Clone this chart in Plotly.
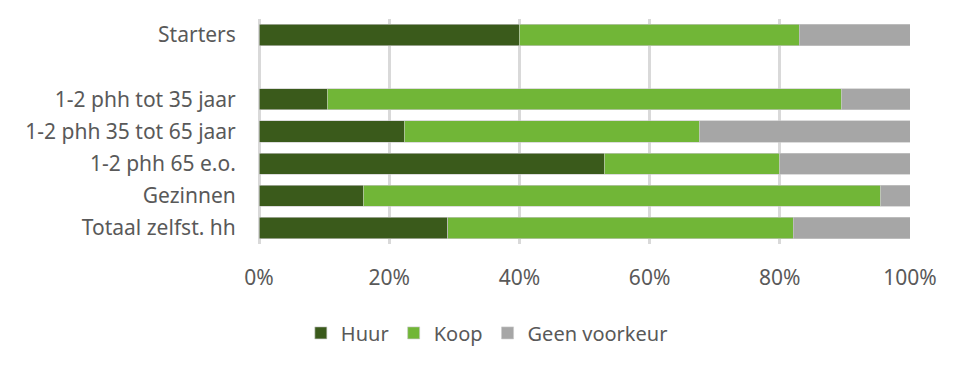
import plotly.graph_objects as go

categories = ["Starters", " ", "1-2 phh tot 35 jaar", "1-2 phh 35 tot 65 jaar",
              "1-2 phh 65 e.o.", "Gezinnen", "Totaal zelfst. hh"]
huur = [40, None, 10.5, 22.3, 53.0, 16.0, 29.0]
koop = [43, None, 79.0, 45.4, 27.0, 79.5, 53.1]
geen = [17, None, 10.5, 32.3, 20.0, 4.5, 17.9]
series = [("Huur", huur, "#3A5A1B"), ("Koop", koop, "#71B637"), ("Geen voorkeur", geen, "#A6A6A6")]
x_ticks = [0, 20, 40, 60, 80, 100]
x_labels = ["0%", "20%", "40%", "60%", "80%", "100%"]

FONT = "Noto Sans"
FS = 21
fig = go.Figure()
for name, vals, color in series:
    fig.add_trace(go.Bar(
        y=categories, x=vals, name=name, orientation="h",
        marker=dict(color=color, line=dict(color="rgba(200,200,200,0.8)", width=0.8)),
    ))

fig.update_layout(
    barmode="stack", bargap=0.34,
    width=969, height=377,
    margin=dict(l=259, r=59, t=19, b=133),
    plot_bgcolor="white", paper_bgcolor="white",
    font=dict(family=FONT, size=FS, color="#595959"),
    legend=dict(orientation="h", x=0.35, xanchor="center", y=-0.395, yanchor="middle",
                font=dict(family=FONT, size=20, color="#595959"), itemwidth=30,
                traceorder="normal"),
    showlegend=True,
)
fig.update_xaxes(range=[0, 100], tickvals=x_ticks, ticktext=x_labels,
                 showgrid=True, gridcolor="#D9D9D9", gridwidth=2.5,
                 zeroline=True, zerolinecolor="#D9D9D9", zerolinewidth=2.5,
                 showline=False, ticks="outside", ticklen=15, tickcolor="rgba(0,0,0,0)",
                 tickfont=dict(family=FONT, size=FS, color="#595959"), fixedrange=True)
fig.update_yaxes(categoryorder="array", categoryarray=categories, autorange="reversed",
                 showgrid=False, ticks="outside", ticklen=18, tickcolor="rgba(0,0,0,0)",
                 tickfont=dict(family=FONT, size=FS, color="#595959"), fixedrange=True)

fig.write_html("out.html")
